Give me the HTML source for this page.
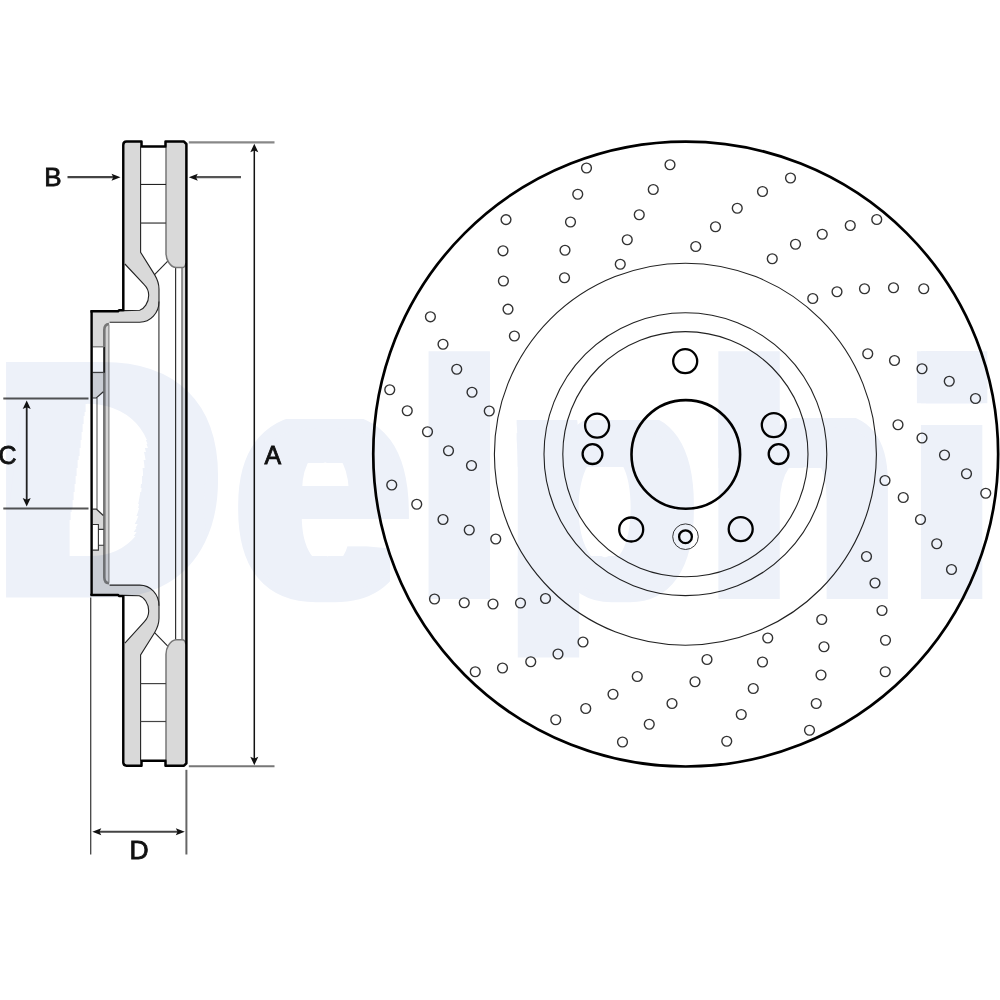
<!DOCTYPE html>
<html lang="en"><head><meta charset="utf-8"><title>Brake disc drawing</title>
<style>html,body{margin:0;padding:0;background:#fff;width:1000px;height:1000px;overflow:hidden}svg{display:block}.lbl{font-family:"Liberation Sans",Arial,sans-serif;font-size:25px;fill:#111;stroke:#111;stroke-width:.8px}.wm{font-family:"Liberation Sans",Arial,sans-serif;font-weight:bold;font-size:336.5px;fill:#edf1f9}</style></head><body>
<svg width="1000" height="1000" viewBox="0 0 1000 1000">
<rect width="1000" height="1000" fill="#fff"/>
<g id="section" fill="none" stroke-linecap="butt">
<path d="M124.9 142 L141.5 142 L141.5 146.6 L140.6 146.6 L140.6 252.3 L154.55 274.6 C157.5 279.5 159 283.5 159 289 L159 301.5 C159 313 150.5 322.2 139.7 322.2 L109.6 322.2 L109.6 324.3 L108 324.3 Q104.3 324.5 104.3 329.7 L104.3 391.7 L96.3 398 L92 398 L92 311.3 L139.7 310.2 C144 309 148.7 303 148.7 295.2 C148.7 290 146.5 287 144.2 284.7 L124.9 264 Z" fill="#d9d9d9" stroke="none"/>
<path d="M124.9 765.3 L141.5 765.3 L141.5 760.7 L140.6 760.7 L140.6 655 L154.55 632.7 C157.5 627.8 159 623.8 159 618.3 L159 605.8 C159 594.3 150.5 585.1 139.7 585.1 L109.6 585.1 L109.6 583 L108 583 Q104.3 582.8 104.3 577.6 L104.3 515.6 L96.3 509.3 L92 509.3 L92 595 L139.2 595.7 C144 597 148.7 603.5 148.7 611 C148.7 616.3 146.5 619.5 144.2 621.8 L124.9 643.2 Z" fill="#d9d9d9" stroke="none"/>
<path d="M166 142 L186 142 L186 263 Q186 267.6 182 267.6 L175.7 267.6 C170 266.5 166 260 166 253 Z" fill="#d9d9d9" stroke="none"/>
<path d="M166 765.3 L186 765.3 L186 644.3 Q186 639.7 182 639.7 L175.7 639.7 C170 640.8 166 647.3 166 654.3 Z" fill="#d9d9d9" stroke="none"/>
<rect x="182" y="267.6" width="3.5" height="372.1" fill="#dcdcdc"/>
<rect x="105" y="325" width="4" height="257.3" fill="#d4d4d4"/>
<rect x="92.5" y="346.8" width="11.3" height="25.7" fill="#fff"/>
<rect x="92.5" y="524.5" width="6" height="25.6" fill="#fff"/>
<rect x="98.4" y="529.4" width="5.4" height="15.8" fill="#fff"/>
<line x1="158.9" y1="301.5" x2="158.9" y2="605.8" stroke="#666" stroke-width="1.5"/>
<line x1="175.6" y1="267.6" x2="175.6" y2="639.7" stroke="#333" stroke-width="1.2"/>
<line x1="182" y1="267.6" x2="182" y2="639.7" stroke="#777" stroke-width="1.5"/>
<path d="M109 324 Q104.3 324.3 104.3 330 L104.3 577.3 Q104.3 583 109 583.3" stroke="#777" stroke-width="2.6"/>
<line x1="104.2" y1="347" x2="104.2" y2="372.8" stroke="#222" stroke-width="1.6"/>
<line x1="108.9" y1="324.5" x2="108.9" y2="582.8" stroke="#888" stroke-width="1.2"/>
<line x1="97" y1="398" x2="97" y2="509.2" stroke="#777" stroke-width="1.3"/>
<path d="M140.6 146.6 L140.6 252.3 L154.55 274.6 C157.5 279.5 159 283.5 159 289 L159 301.5 C159 313 150.5 322.2 139.7 322.2 L109.6 322.2" stroke="#222" stroke-width="1.1"/>
<path d="M124.9 264 L144.2 284.7 C146.5 287 148.7 290 148.7 295.2 C148.7 303 144 309 139.7 310.2 L124 310.6" stroke="#222" stroke-width="1.1"/>
<line x1="154.55" y1="274.6" x2="168" y2="260.9" stroke="#222" stroke-width="1.1"/>
<path d="M166 147 L166 253 C166 260 170 266.5 175.7 267.6 L182 267.6 Q185.5 267.6 185.8 263" stroke="#777" stroke-width="1.5"/>
<path d="M140.6 760.7 L140.6 655 L154.55 632.7 C157.5 627.8 159 623.8 159 618.3 L159 605.8 C159 594.3 150.5 585.1 139.7 585.1 L109.6 585.1" stroke="#222" stroke-width="1.1"/>
<path d="M124.9 643.2 L144.2 621.8 C146.5 619.5 148.7 616.3 148.7 611 C148.7 603.5 144 597 139.2 595.7 L124 595.4" stroke="#222" stroke-width="1.1"/>
<line x1="154.55" y1="632.7" x2="168" y2="646.4" stroke="#222" stroke-width="1.1"/>
<path d="M166 760.3 L166 654.3 C166 647.3 170 640.8 175.7 639.7 L182 639.7 Q185.5 639.7 185.8 644.3" stroke="#777" stroke-width="1.5"/>
<line x1="140.6" y1="184.45" x2="166" y2="184.45" stroke="#222" stroke-width="1.1"/>
<line x1="140.6" y1="223.05" x2="166" y2="223.05" stroke="#444" stroke-width="1.3"/>
<line x1="140.6" y1="721.5" x2="166" y2="721.5" stroke="#444" stroke-width="1.2"/>
<line x1="140.6" y1="683.6" x2="166" y2="683.6" stroke="#444" stroke-width="1.2"/>
<line x1="92.5" y1="346.8" x2="103.8" y2="346.8" stroke="#777" stroke-width="1.3"/>
<line x1="92.5" y1="372.45" x2="103.8" y2="372.45" stroke="#444" stroke-width="1.3"/>
<path d="M92.5 398 L96.3 398 L103.3 391.7" stroke="#333" stroke-width="1.2"/>
<path d="M92.5 509.2 L96.5 509.2 L103.3 515.5" stroke="#333" stroke-width="1.2"/>
<path d="M92.5 524.5 L98.4 524.5 L98.4 550.1 L92.5 550.1 M98.4 529.4 L103.8 529.4 M98.4 545.2 L103.8 545.2" stroke="#333" stroke-width="1.1"/>
<path d="M91.6 311.35 L91.6 594.9" stroke="#000" stroke-width="2.4"/>
<path d="M90.3 311.35 L118 311.35 L119 310.3 L123.3 310.3 L123.3 145 Q123.3 141.6 126.5 141.6 L141.5 141.6 L141.5 146.6 L165.5 146.6 L165.5 141.6 L184 141.6 L186.4 144 L186.4 763.3 L184 765.7 L165.5 765.7 L165.5 760.7 L141.5 760.7 L141.5 765.7 L126.5 765.7 Q123.3 765.7 123.3 762.3 L123.3 596 L119 596 L118 594.9 L90.3 594.9" stroke="#000" stroke-width="2.5" stroke-linejoin="round"/>
</g>
<g id="dims" fill="none">
<line x1="188.8" y1="142.3" x2="274.5" y2="142.3" stroke="#888" stroke-width="2.2"/>
<line x1="188.8" y1="766.2" x2="274.5" y2="766.2" stroke="#777" stroke-width="2"/>
<line x1="254.3" y1="150" x2="254.3" y2="759" stroke="#111" stroke-width="1.5"/>
<path d="M254.3 143.8 L258.3 152.3 L254.3 150.6 L250.3 152.3 Z" fill="#111" stroke="none"/>
<path d="M254.3 765.2 L250.3 756.7 L254.3 758.4 L258.3 756.7 Z" fill="#111" stroke="none"/>
<line x1="67.5" y1="177.2" x2="114" y2="177.2" stroke="#444" stroke-width="2.2"/>
<path d="M120.5 177.2 L111.5 180.7 L113.3 177.2 L111.5 173.7 Z" fill="#111" stroke="none"/>
<line x1="195" y1="177.2" x2="241" y2="177.2" stroke="#555" stroke-width="2.2"/>
<path d="M188.8 177.2 L197.8 173.7 L196 177.2 L197.8 180.7 Z" fill="#111" stroke="none"/>
<line x1="3.3" y1="398.6" x2="88.5" y2="398.6" stroke="#555" stroke-width="2"/>
<line x1="3.3" y1="508.4" x2="88.5" y2="508.4" stroke="#555" stroke-width="2"/>
<line x1="26.7" y1="407" x2="26.7" y2="500" stroke="#222" stroke-width="1.8"/>
<path d="M26.7 400.5 L30.7 409 L26.7 407.3 L22.7 409 Z" fill="#111" stroke="none"/>
<path d="M26.7 506.5 L22.7 498 L26.7 499.7 L30.7 498 Z" fill="#111" stroke="none"/>
<line x1="90.7" y1="597.6" x2="90.7" y2="854.5" stroke="#444" stroke-width="1.3"/>
<line x1="186.4" y1="769.8" x2="186.4" y2="854.5" stroke="#666" stroke-width="2"/>
<line x1="99" y1="831.75" x2="178" y2="831.75" stroke="#444" stroke-width="2"/>
<path d="M92.3 831.75 L101.3 828.25 L99.5 831.75 L101.3 835.25 Z" fill="#111" stroke="none"/>
<path d="M184.8 831.75 L175.8 835.25 L177.6 831.75 L175.8 828.25 Z" fill="#111" stroke="none"/>
</g>
<g id="labels" class="lbl">
<text transform="translate(44.2 186) scale(1.04 1)">B</text>
<text x="-1.6" y="463.6">C</text>
<text x="264.4" y="463.9">A</text>
<text transform="translate(129.6 859.3) scale(1.06 1)">D</text>
</g>
<g id="disc" fill="none">
<circle cx="685.7" cy="454.05" r="312.45" stroke="#000" stroke-width="2.7"/>
<circle cx="685.4" cy="454.2" r="191" stroke="#222" stroke-width="1.1"/>
<circle cx="685.4" cy="454.2" r="141.4" stroke="#222" stroke-width="1.1"/>
<circle cx="685.4" cy="454.2" r="122.6" stroke="#222" stroke-width="1.1"/>
<circle cx="685.8" cy="454.4" r="54.3" stroke="#000" stroke-width="2.6"/>
<circle cx="685.2" cy="361.2" r="12" stroke="#000" stroke-width="2.3"/>
<circle cx="597.1" cy="425.6" r="12" stroke="#000" stroke-width="2.3"/>
<circle cx="773.8" cy="425.1" r="12" stroke="#000" stroke-width="2.3"/>
<circle cx="631.2" cy="529.5" r="12" stroke="#000" stroke-width="2.3"/>
<circle cx="740.7" cy="529.1" r="12" stroke="#000" stroke-width="2.3"/>
<circle cx="592.5" cy="454.1" r="9.9" stroke="#000" stroke-width="2.3"/>
<circle cx="778.6" cy="454.1" r="9.9" stroke="#000" stroke-width="2.3"/>
<circle cx="685.5" cy="536.7" r="12.8" stroke="#222" stroke-width="0.9"/>
<circle cx="685.5" cy="536.7" r="6.4" stroke="#000" stroke-width="2.3"/>
<g stroke="#333" stroke-width="1.4">
<circle cx="586.5" cy="168" r="4.9"/>
<circle cx="577.75" cy="194.25" r="4.9"/>
<circle cx="570.5" cy="222" r="4.9"/>
<circle cx="565" cy="250.25" r="4.9"/>
<circle cx="564.5" cy="277.75" r="4.9"/>
<circle cx="670" cy="164.75" r="4.9"/>
<circle cx="653.25" cy="189.5" r="4.9"/>
<circle cx="639.25" cy="214.75" r="4.9"/>
<circle cx="627.25" cy="239.75" r="4.9"/>
<circle cx="620.25" cy="264.25" r="4.9"/>
<circle cx="790.5" cy="178" r="4.9"/>
<circle cx="762.5" cy="191.5" r="4.9"/>
<circle cx="737.25" cy="208.25" r="4.9"/>
<circle cx="715.5" cy="226.75" r="4.9"/>
<circle cx="695.75" cy="246.5" r="4.9"/>
<circle cx="876.75" cy="219.5" r="4.9"/>
<circle cx="850.25" cy="225.5" r="4.9"/>
<circle cx="822.25" cy="234.25" r="4.9"/>
<circle cx="795.5" cy="244.25" r="4.9"/>
<circle cx="772.25" cy="258.75" r="4.9"/>
<circle cx="923.75" cy="288.75" r="4.9"/>
<circle cx="893.5" cy="287.75" r="4.9"/>
<circle cx="864.5" cy="288.75" r="4.9"/>
<circle cx="837" cy="291.75" r="4.9"/>
<circle cx="812.75" cy="298.5" r="4.9"/>
<circle cx="975.5" cy="398.5" r="4.9"/>
<circle cx="949.25" cy="381.25" r="4.9"/>
<circle cx="922" cy="368.75" r="4.9"/>
<circle cx="894.5" cy="360.5" r="4.9"/>
<circle cx="867.75" cy="353.75" r="4.9"/>
<circle cx="985.75" cy="493.25" r="4.9"/>
<circle cx="966.5" cy="473.75" r="4.9"/>
<circle cx="944.5" cy="455" r="4.9"/>
<circle cx="922" cy="438" r="4.9"/>
<circle cx="898" cy="424.75" r="4.9"/>
<circle cx="951.5" cy="569.5" r="4.9"/>
<circle cx="936.75" cy="543.75" r="4.9"/>
<circle cx="920.5" cy="519.5" r="4.9"/>
<circle cx="903.25" cy="497.5" r="4.9"/>
<circle cx="885" cy="480.5" r="4.9"/>
<circle cx="885.25" cy="671.75" r="4.9"/>
<circle cx="885.5" cy="640.25" r="4.9"/>
<circle cx="882" cy="610.5" r="4.9"/>
<circle cx="875" cy="583" r="4.9"/>
<circle cx="866.5" cy="556.5" r="4.9"/>
<circle cx="809.5" cy="730.25" r="4.9"/>
<circle cx="816.25" cy="703.5" r="4.9"/>
<circle cx="821" cy="675" r="4.9"/>
<circle cx="824" cy="646.75" r="4.9"/>
<circle cx="821.75" cy="619.5" r="4.9"/>
<circle cx="726.75" cy="741.25" r="4.9"/>
<circle cx="741.25" cy="714.5" r="4.9"/>
<circle cx="753.25" cy="688.5" r="4.9"/>
<circle cx="762.5" cy="662" r="4.9"/>
<circle cx="767.75" cy="638" r="4.9"/>
<circle cx="622.5" cy="742" r="4.9"/>
<circle cx="649.25" cy="724.25" r="4.9"/>
<circle cx="672" cy="703.5" r="4.9"/>
<circle cx="695" cy="681.75" r="4.9"/>
<circle cx="707" cy="659.5" r="4.9"/>
<circle cx="555.75" cy="719.75" r="4.9"/>
<circle cx="585.75" cy="708.5" r="4.9"/>
<circle cx="613" cy="694.25" r="4.9"/>
<circle cx="637.25" cy="676.5" r="4.9"/>
<circle cx="475.25" cy="671.75" r="4.9"/>
<circle cx="502.5" cy="668" r="4.9"/>
<circle cx="530.75" cy="661.75" r="4.9"/>
<circle cx="558" cy="654" r="4.9"/>
<circle cx="583" cy="642" r="4.9"/>
<circle cx="434.5" cy="599" r="4.9"/>
<circle cx="464.25" cy="602.75" r="4.9"/>
<circle cx="493" cy="604" r="4.9"/>
<circle cx="520.5" cy="603" r="4.9"/>
<circle cx="545.5" cy="598.5" r="4.9"/>
<circle cx="391.75" cy="485" r="4.9"/>
<circle cx="416.75" cy="504.25" r="4.9"/>
<circle cx="443" cy="519.5" r="4.9"/>
<circle cx="469.25" cy="530" r="4.9"/>
<circle cx="495.75" cy="539" r="4.9"/>
<circle cx="389.75" cy="389.75" r="4.9"/>
<circle cx="407.25" cy="410.75" r="4.9"/>
<circle cx="427.5" cy="431.75" r="4.9"/>
<circle cx="448.5" cy="450.75" r="4.9"/>
<circle cx="471.5" cy="465.5" r="4.9"/>
<circle cx="430.4" cy="316.8" r="4.9"/>
<circle cx="443" cy="344.25" r="4.9"/>
<circle cx="456.75" cy="369.25" r="4.9"/>
<circle cx="472" cy="392.25" r="4.9"/>
<circle cx="489.25" cy="411" r="4.9"/>
<circle cx="506" cy="219.6" r="4.9"/>
<circle cx="503" cy="250.8" r="4.9"/>
<circle cx="503.4" cy="281" r="4.9"/>
<circle cx="508" cy="309.2" r="4.9"/>
<circle cx="514.4" cy="336" r="4.9"/>
</g>
</g>
<defs><filter id="hd" filterUnits="userSpaceOnUse" x="-60" y="300" width="1120" height="420"><feMorphology in="SourceGraphic" operator="dilate" radius="8.75 2" result="a"/><feOffset in="a" dx="0" dy="0" x="-60" y="300" width="286" height="420" result="aD"/><feOffset in="aD" dx="16.5" dy="0" x="-60" y="400.0" width="170" height="4.0" result="r0"/><feOffset in="aD" dx="16.0" dy="0" x="-60" y="404.0" width="170" height="4.0" result="r1"/><feOffset in="aD" dx="15.5" dy="0" x="-60" y="408.0" width="170" height="4.0" result="r2"/><feOffset in="aD" dx="14.9" dy="0" x="-60" y="412.0" width="170" height="4.0" result="r3"/><feOffset in="aD" dx="14.4" dy="0" x="-60" y="416.0" width="170" height="4.0" result="r4"/><feOffset in="aD" dx="13.8" dy="0" x="-60" y="420.0" width="170" height="4.0" result="r5"/><feOffset in="aD" dx="13.3" dy="0" x="-60" y="424.0" width="170" height="4.0" result="r6"/><feOffset in="aD" dx="12.8" dy="0" x="-60" y="428.0" width="170" height="4.0" result="r7"/><feOffset in="aD" dx="12.2" dy="0" x="-60" y="432.0" width="170" height="4.0" result="r8"/><feOffset in="aD" dx="11.7" dy="0" x="-60" y="436.0" width="170" height="4.0" result="r9"/><feOffset in="aD" dx="11.1" dy="0" x="-60" y="440.0" width="170" height="4.0" result="r10"/><feOffset in="aD" dx="-0.9" dy="0" x="110" y="440.0" width="112" height="4.0" result="l10"/><feOffset in="aD" dx="10.6" dy="0" x="-60" y="444.0" width="170" height="4.0" result="r11"/><feOffset in="aD" dx="-2.5" dy="0" x="110" y="444.0" width="112" height="4.0" result="l11"/><feOffset in="aD" dx="10.1" dy="0" x="-60" y="448.0" width="170" height="4.0" result="r12"/><feOffset in="aD" dx="-5.0" dy="0" x="110" y="448.0" width="112" height="4.0" result="l12"/><feOffset in="aD" dx="9.5" dy="0" x="-60" y="452.0" width="170" height="4.0" result="r13"/><feOffset in="aD" dx="-6.6" dy="0" x="110" y="452.0" width="112" height="4.0" result="l13"/><feOffset in="aD" dx="9.0" dy="0" x="-60" y="456.0" width="170" height="4.0" result="r14"/><feOffset in="aD" dx="-7.1" dy="0" x="110" y="456.0" width="112" height="4.0" result="l14"/><feOffset in="aD" dx="8.4" dy="0" x="-60" y="460.0" width="170" height="4.0" result="r15"/><feOffset in="aD" dx="-8.7" dy="0" x="110" y="460.0" width="112" height="4.0" result="l15"/><feOffset in="aD" dx="7.9" dy="0" x="-60" y="464.0" width="170" height="4.0" result="r16"/><feOffset in="aD" dx="-9.2" dy="0" x="110" y="464.0" width="112" height="4.0" result="l16"/><feOffset in="aD" dx="7.4" dy="0" x="-60" y="468.0" width="170" height="4.0" result="r17"/><feOffset in="aD" dx="-10.8" dy="0" x="110" y="468.0" width="112" height="4.0" result="l17"/><feOffset in="aD" dx="6.8" dy="0" x="-60" y="472.0" width="170" height="4.0" result="r18"/><feOffset in="aD" dx="-11.3" dy="0" x="110" y="472.0" width="112" height="4.0" result="l18"/><feOffset in="aD" dx="6.3" dy="0" x="-60" y="476.0" width="170" height="4.0" result="r19"/><feOffset in="aD" dx="-11.8" dy="0" x="110" y="476.0" width="112" height="4.0" result="l19"/><feOffset in="aD" dx="5.7" dy="0" x="-60" y="480.0" width="170" height="4.0" result="r20"/><feOffset in="aD" dx="-12.4" dy="0" x="110" y="480.0" width="112" height="4.0" result="l20"/><feOffset in="aD" dx="5.2" dy="0" x="-60" y="484.0" width="170" height="4.0" result="r21"/><feOffset in="aD" dx="-12.9" dy="0" x="110" y="484.0" width="112" height="4.0" result="l21"/><feOffset in="aD" dx="4.7" dy="0" x="-60" y="488.0" width="170" height="4.0" result="r22"/><feOffset in="aD" dx="-12.5" dy="0" x="110" y="488.0" width="112" height="4.0" result="l22"/><feOffset in="aD" dx="4.1" dy="0" x="-60" y="492.0" width="170" height="4.0" result="r23"/><feOffset in="aD" dx="-13.0" dy="0" x="110" y="492.0" width="112" height="4.0" result="l23"/><feOffset in="aD" dx="3.6" dy="0" x="-60" y="496.0" width="170" height="4.0" result="r24"/><feOffset in="aD" dx="-12.6" dy="0" x="110" y="496.0" width="112" height="4.0" result="l24"/><feOffset in="aD" dx="3.0" dy="0" x="-60" y="500.0" width="170" height="4.0" result="r25"/><feOffset in="aD" dx="-13.1" dy="0" x="110" y="500.0" width="112" height="4.0" result="l25"/><feOffset in="aD" dx="2.5" dy="0" x="-60" y="504.0" width="170" height="4.0" result="r26"/><feOffset in="aD" dx="-11.7" dy="0" x="110" y="504.0" width="112" height="4.0" result="l26"/><feOffset in="aD" dx="2.0" dy="0" x="-60" y="508.0" width="170" height="4.0" result="r27"/><feOffset in="aD" dx="-11.2" dy="0" x="110" y="508.0" width="112" height="4.0" result="l27"/><feOffset in="aD" dx="1.4" dy="0" x="-60" y="512.0" width="170" height="4.0" result="r28"/><feOffset in="aD" dx="-10.7" dy="0" x="110" y="512.0" width="112" height="4.0" result="l28"/><feOffset in="aD" dx="0.9" dy="0" x="-60" y="516.0" width="170" height="4.0" result="r29"/><feOffset in="aD" dx="-9.3" dy="0" x="110" y="516.0" width="112" height="4.0" result="l29"/><feOffset in="aD" dx="-8.8" dy="0" x="110" y="520.0" width="112" height="4.0" result="l30"/><feOffset in="aD" dx="-6.4" dy="0" x="110" y="524.0" width="112" height="4.0" result="l31"/><feOffset in="aD" dx="-4.9" dy="0" x="110" y="528.0" width="112" height="4.0" result="l32"/><feOffset in="aD" dx="-2.5" dy="0" x="110" y="532.0" width="112" height="4.0" result="l33"/><feOffset in="a" dx="0" dy="13.5" x="232" y="410" width="182" height="52.5" result="te"/><feOffset in="a" dx="0" dy="16" x="512" y="410" width="186" height="57" result="tp"/><feOffset in="a" dx="0" dy="12.5" x="714" y="410" width="180" height="57.5" result="th"/><feOffset in="a" dx="0" dy="-10" x="232" y="556" width="182" height="48" result="be"/><feOffset in="a" dx="0" dy="-8.5" x="512" y="556.5" width="186" height="47.5" result="bp"/><feOffset in="a" dx="0" dy="14" x="915" y="345" width="80" height="59" result="d1"/><feOffset in="a" dx="-4" dy="0" x="910" y="345" width="85" height="59" result="d2"/><feOffset in="a" dx="5" dy="0" x="910" y="345" width="85" height="59" result="d3"/><feOffset in="a" dx="-4" dy="14" x="910" y="345" width="85" height="59" result="d4"/><feOffset in="a" dx="5" dy="14" x="910" y="345" width="85" height="59" result="d5"/><feMerge result="m"><feMergeNode in="a"/><feMergeNode in="r0"/><feMergeNode in="r1"/><feMergeNode in="r2"/><feMergeNode in="r3"/><feMergeNode in="r4"/><feMergeNode in="r5"/><feMergeNode in="r6"/><feMergeNode in="r7"/><feMergeNode in="r8"/><feMergeNode in="r9"/><feMergeNode in="r10"/><feMergeNode in="l10"/><feMergeNode in="r11"/><feMergeNode in="l11"/><feMergeNode in="r12"/><feMergeNode in="l12"/><feMergeNode in="r13"/><feMergeNode in="l13"/><feMergeNode in="r14"/><feMergeNode in="l14"/><feMergeNode in="r15"/><feMergeNode in="l15"/><feMergeNode in="r16"/><feMergeNode in="l16"/><feMergeNode in="r17"/><feMergeNode in="l17"/><feMergeNode in="r18"/><feMergeNode in="l18"/><feMergeNode in="r19"/><feMergeNode in="l19"/><feMergeNode in="r20"/><feMergeNode in="l20"/><feMergeNode in="r21"/><feMergeNode in="l21"/><feMergeNode in="r22"/><feMergeNode in="l22"/><feMergeNode in="r23"/><feMergeNode in="l23"/><feMergeNode in="r24"/><feMergeNode in="l24"/><feMergeNode in="r25"/><feMergeNode in="l25"/><feMergeNode in="r26"/><feMergeNode in="l26"/><feMergeNode in="r27"/><feMergeNode in="l27"/><feMergeNode in="r28"/><feMergeNode in="l28"/><feMergeNode in="r29"/><feMergeNode in="l29"/><feMergeNode in="l30"/><feMergeNode in="l31"/><feMergeNode in="l32"/><feMergeNode in="l33"/><feMergeNode in="te"/><feMergeNode in="tp"/><feMergeNode in="th"/><feMergeNode in="be"/><feMergeNode in="bp"/><feMergeNode in="d1"/><feMergeNode in="d2"/><feMergeNode in="d3"/><feMergeNode in="d4"/><feMergeNode in="d5"/></feMerge><feFlood flood-color="#000" x="912" y="404" width="80" height="20.4" result="f0"/><feFlood flood-color="#000" x="232" y="405" width="196" height="13.4" result="f1"/><feFlood flood-color="#000" x="492" y="405" width="225" height="14.5" result="f2"/><feFlood flood-color="#000" x="781" y="405" width="120" height="13" result="f3"/><feFlood flood-color="#000" x="390.5" y="522.5" width="24" height="83" result="f4"/><feMerge result="F"><feMergeNode in="f0"/><feMergeNode in="f1"/><feMergeNode in="f2"/><feMergeNode in="f3"/><feMergeNode in="f4"/></feMerge><feComposite in="m" in2="F" operator="out"/></filter><clipPath id="wmclip"><rect x="-60" y="300" width="1120" height="357.5"/></clipPath></defs>
<g id="wm" class="wm" style="mix-blend-mode:multiply" clip-path="url(#wmclip)"><g filter="url(#hd)">
<text transform="scale(0.94 1)" x="-6.5 249.8 442.0 536.9 750.3 965.8" y="595.5 597 597 597 597 597">Delphi</text>

</g></g>
</svg></body></html>
